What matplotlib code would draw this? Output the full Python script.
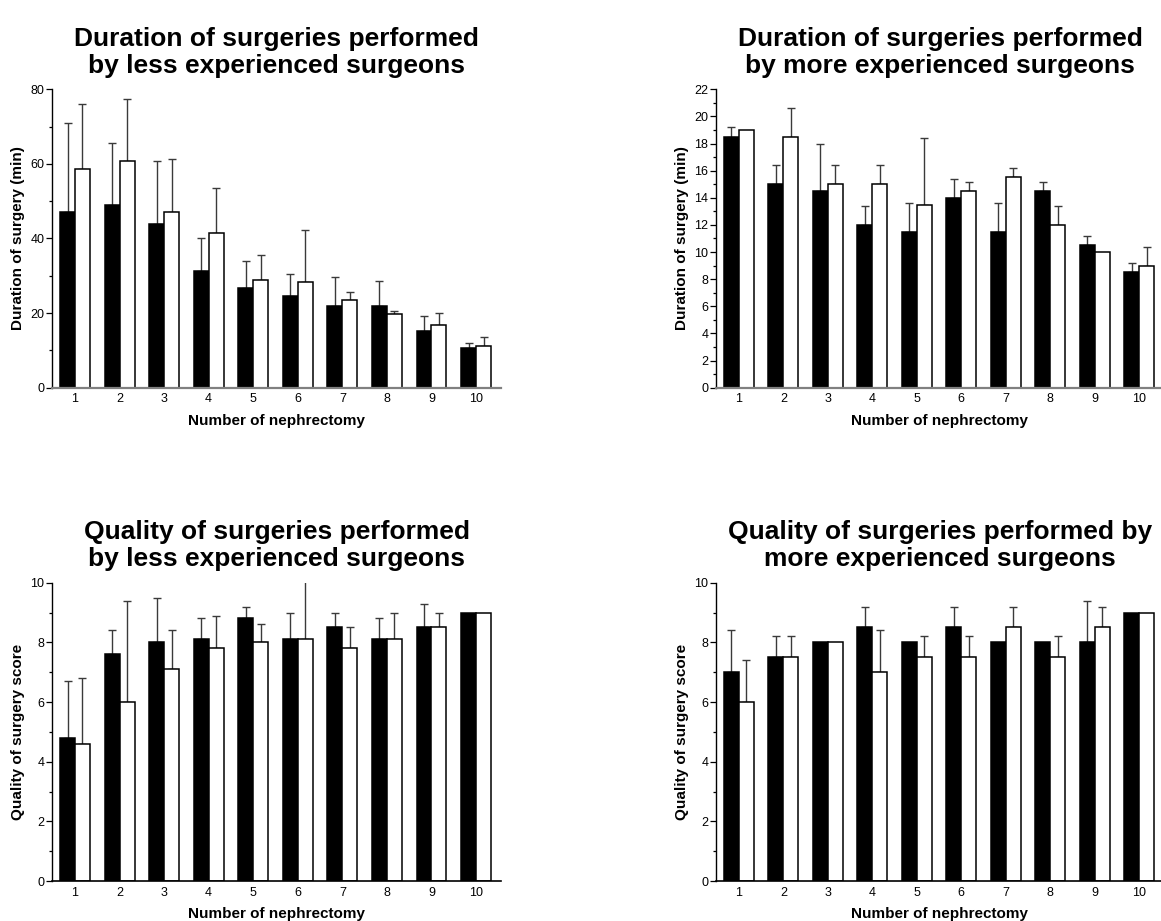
import matplotlib
matplotlib.use('Agg')
import matplotlib.pyplot as plt
import numpy as np
from matplotlib.ticker import MultipleLocator

plt.rcParams['font.family'] = ['Liberation Sans', 'DejaVu Sans']

# nephrectomy number
cases = np.arange(1, 11)

# duration (min), less experienced surgeons
dur_less_a = [47.2, 49.0, 43.9, 31.3, 26.8, 24.6, 21.9, 21.9, 15.2, 10.6]
dur_less_a_sd = [23.7, 16.5, 16.8, 8.9, 7.1, 5.8, 7.7, 6.6, 3.9, 1.3]
dur_less_b = [58.5, 60.9, 47.2, 41.5, 28.8, 28.3, 23.5, 19.8, 16.9, 11.3]
dur_less_b_sd = [17.5, 16.4, 14.1, 12.1, 6.7, 13.9, 2.2, 0.8, 3.0, 2.4]

# duration (min), more experienced surgeons
dur_more_a = [18.5, 15.0, 14.5, 12.0, 11.5, 14.0, 11.5, 14.5, 10.5, 8.5]
dur_more_a_sd = [0.7, 1.4, 3.5, 1.4, 2.1, 1.4, 2.1, 0.7, 0.7, 0.7]
dur_more_b = [19.0, 18.5, 15.0, 15.0, 13.5, 14.5, 15.5, 12.0, 10.0, 9.0]
dur_more_b_sd = [0, 2.1, 1.4, 1.4, 4.9, 0.7, 0.7, 1.4, 0, 1.4]

# quality score, less experienced surgeons
qual_less_a = [4.8, 7.6, 8.0, 8.1, 8.8, 8.1, 8.5, 8.1, 8.5, 9.0]
qual_less_a_sd = [1.9, 0.8, 1.5, 0.7, 0.4, 0.9, 0.5, 0.7, 0.8, 0]
qual_less_b = [4.6, 6.0, 7.1, 7.8, 8.0, 8.1, 7.8, 8.1, 8.5, 9.0]
qual_less_b_sd = [2.2, 3.4, 1.3, 1.1, 0.6, 2.2, 0.7, 0.9, 0.5, 0]

# quality score, more experienced surgeons
qual_more_a = [7.0, 7.5, 8.0, 8.5, 8.0, 8.5, 8.0, 8.0, 8.0, 9.0]
qual_more_a_sd = [1.4, 0.7, 0, 0.7, 0, 0.7, 0, 0, 1.4, 0]
qual_more_b = [6.0, 7.5, 8.0, 7.0, 7.5, 7.5, 8.5, 7.5, 8.5, 9.0]
qual_more_b_sd = [1.4, 0.7, 0, 1.4, 0.7, 0.7, 0.7, 0.7, 0.7, 0]

W, H = 1161, 921
fig = plt.figure(figsize=(W / 100, H / 100), dpi=100)


def px_axes(x0, x1, y0, y1):
    # axes box from pixel edges
    return fig.add_axes([x0 / W, 1 - y1 / H, (x1 - x0) / W, (y1 - y0) / H])


bw = 0.336


def panel(ax, a, a_sd, b, b_sd, title, ylabel, ymax, major, minor, xcolor, xlw):
    xa = cases - bw / 2
    xb = cases + bw / 2
    ax.bar(xa, a, width=bw, color='black', edgecolor='black', linewidth=1.1, zorder=2)
    ax.bar(xb, b, width=bw, color='white', edgecolor='black', linewidth=1.1, zorder=2)
    for xs, ys, sd in ((xa, a, a_sd), (xb, b, b_sd)):
        ys = np.array(ys)
        sd = np.array(sd)
        m = sd > 0
        ax.errorbar(xs[m], ys[m], yerr=[np.zeros(m.sum()), sd[m]], fmt='none',
                    ecolor='#3a3a3a', elinewidth=1.0, capsize=2.6, capthick=1.0, zorder=1)
    ax.set_xlim(0.484, 10.56)
    ax.set_ylim(0, ymax)
    ax.set_xticks(cases)
    ax.yaxis.set_major_locator(MultipleLocator(major))
    ax.yaxis.set_minor_locator(MultipleLocator(minor))
    ax.tick_params(axis='x', length=0, pad=4, labelsize=9)
    ax.tick_params(axis='y', which='major', length=4, width=0.9, pad=1.5, labelsize=9)
    ax.tick_params(axis='y', which='minor', length=2.5, width=0.9)
    for s in ('top', 'right'):
        ax.spines[s].set_visible(False)
    ax.spines['left'].set_linewidth(1.0)
    ax.spines['bottom'].set_color(xcolor)
    ax.spines['bottom'].set_linewidth(xlw)
    ax.set_xlabel('Number of nephrectomy', fontsize=11, fontweight='bold', labelpad=6)
    ax.set_ylabel(ylabel, fontsize=11, fontweight='bold', labelpad=4)
    ax.set_title(title, fontsize=19, fontweight='bold', pad=12, linespacing=1.15)


ax1 = px_axes(52, 501, 89.3, 387.7)
panel(ax1, dur_less_a, dur_less_a_sd, dur_less_b, dur_less_b_sd,
      'Duration of surgeries performed\nby less experienced surgeons',
      'Duration of surgery (min)', 80, 20, 10, '#808080', 1.6)

ax2 = px_axes(716, 1164, 89.3, 387.7)
panel(ax2, dur_more_a, dur_more_a_sd, dur_more_b, dur_more_b_sd,
      'Duration of surgeries performed\nby more experienced surgeons',
      'Duration of surgery (min)', 22, 2, 1, '#808080', 1.6)

ax3 = px_axes(52, 501, 582.7, 881)
panel(ax3, qual_less_a, qual_less_a_sd, qual_less_b, qual_less_b_sd,
      'Quality of surgeries performed\nby less experienced surgeons',
      'Quality of surgery score', 10, 2, 1, 'black', 1.2)

ax4 = px_axes(716, 1164, 582.7, 881)
panel(ax4, qual_more_a, qual_more_a_sd, qual_more_b, qual_more_b_sd,
      'Quality of surgeries performed by\nmore experienced surgeons',
      'Quality of surgery score', 10, 2, 1, 'black', 1.2)

fig.savefig('out.png', dpi=100)
